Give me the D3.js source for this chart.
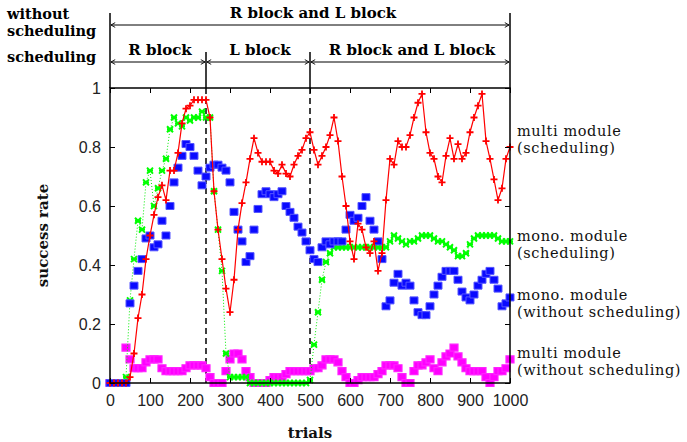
<!DOCTYPE html>
<html><head><meta charset="utf-8">
<script src="https://cdn.jsdelivr.net/npm/d3@7"></script>
<style>
html,body{margin:0;padding:0;background:#fff;}
svg{display:block;}
</style></head>
<body>
<svg id="chart" width="687" height="442"></svg>
<script>
const trials = [0,10,20,30,40,50,60,70,80,90,100,110,120,130,140,150,160,170,180,190,200,210,220,230,240,250,260,270,280,290,300,310,320,330,340,350,360,370,380,390,400,410,420,430,440,450,460,470,480,490,500,510,520,530,540,550,560,570,580,590,600,610,620,630,640,650,660,670,680,690,700,710,720,730,740,750,760,770,780,790,800,810,820,830,840,850,860,870,880,890,900,910,920,930,940,950,960,970,980,990,1000];

const multiSched = [0,0,0,0,0,0.02,0.10,0.22,0.30,0.42,0.50,0.57,0.63,0.67,0.62,0.72,0.72,0.78,0.88,0.93,0.94,0.96,0.96,0.96,0.96,0.90,0.65,0.52,0.42,0.32,0.24,0.35,0.52,0.61,0.68,0.76,0.83,0.78,0.75,0.75,0.75,0.72,0.71,0.74,0.71,0.70,0.74,0.77,0.79,0.83,0.85,0.79,0.74,0.77,0.80,0.84,0.90,0.82,0.70,0.60,0.48,0.42,0.54,0.52,0.46,0.44,0.48,0.38,0.44,0.62,0.76,0.74,0.82,0.80,0.80,0.84,0.90,0.95,0.98,0.85,0.78,0.76,0.70,0.68,0.77,0.83,0.76,0.81,0.76,0.78,0.85,0.90,0.94,0.98,0.82,0.76,0.69,0.62,0.66,0.76,0.80];

const monoSched = [0,0,0,0,0.02,0.28,0.42,0.55,0.52,0.68,0.72,0.60,0.66,0.72,0.76,0.86,0.90,0.88,0.87,0.90,0.89,0.90,0.90,0.92,0.90,0.90,0.65,0.52,0.38,0.10,0.02,0.02,0.02,0.02,0.02,0,0,0,0,0,0,0,0,0,0,0,0,0,0,0,0.01,0.13,0.24,0.35,0.41,0.44,0.46,0.46,0.46,0.46,0.46,0.46,0.46,0.46,0.46,0.46,0.46,0.46,0.46,0.46,0.48,0.50,0.49,0.48,0.47,0.48,0.48,0.49,0.50,0.50,0.50,0.49,0.48,0.48,0.47,0.46,0.45,0.43,0.43,0.44,0.47,0.49,0.50,0.50,0.50,0.50,0.50,0.49,0.48,0.48,0.48];

const monoNoSched = [0,0,0,0,0,0.27,0.33,0.38,0.42,0.49,0.50,0.46,0.47,0.55,0.50,0.60,0.68,0.73,0.77,0.81,0.80,0.77,0.72,0.67,0.70,0.73,0.74,0.74,0.73,0.72,0.68,0.58,0.52,0.48,0.41,0.43,0.52,0.59,0.64,0.65,0.64,0.63,0.64,0.65,0.60,0.58,0.56,0.53,0.51,0.48,0.45,0.42,0.41,0.46,0.48,0.47,0.48,0.48,0.48,0.52,0.57,0.55,0.56,0.60,0.63,0.55,0.52,0.48,0.42,0.26,0.28,0.34,0.37,0.33,0.34,0.33,0.28,0.24,0.23,0.23,0.26,0.30,0.33,0.36,0.38,0.38,0.38,0.35,0.31,0.29,0.28,0.30,0.33,0.35,0.37,0.38,0.35,0.32,0.26,0.27,0.29];

const multiNoSched = [0,0,0,0,0.12,0.08,0.05,0.05,0.05,0.07,0.08,0.08,0.08,0.05,0.04,0.04,0.04,0.04,0.04,0.05,0.06,0.06,0.06,0.06,0.05,0.02,0,0,0,0.04,0.08,0.10,0.10,0.08,0.04,0.02,0,0,0,0,0.01,0.02,0.02,0.02,0.03,0.04,0.04,0.04,0.04,0.04,0.04,0.05,0.05,0.06,0.08,0.08,0.08,0.07,0.04,0.02,0,0,0.01,0.02,0.02,0.02,0.02,0.03,0.04,0.06,0.06,0.06,0.05,0.02,0,0,0.04,0.06,0.06,0.07,0.08,0.05,0.04,0.07,0.09,0.10,0.12,0.09,0.07,0.05,0.04,0.04,0.04,0.04,0.02,0,0.02,0.04,0.04,0.05,0.08];

const xTicks = [0,100,200,300,400,500,600,700,800,900,1000];
const yTicks = [0,0.2,0.4,0.6,0.8,1];
const phaseBounds = [0,240,500,1000];
const schedLabels = ["R block","L block","R block and L block"];
const noSchedLabel = "R block and L block";
const legendLabels = [
  {lines:["multi module","(scheduling)"], y:0.85},
  {lines:["mono. module","(scheduling)"], y:0.495},
  {lines:["mono. module","(without scheduling)"], y:0.295},
  {lines:["multi module","(without scheduling)"], y:0.097}
];

const svg = d3.select("#chart");
const x = d3.scaleLinear().domain([0,1000]).range([110,510]);
const y = d3.scaleLinear().domain([0,1]).range([383,88]);
const serif = "'DejaVu Serif', serif";
const sans = "'Liberation Sans', Arial, sans-serif";

const defs = svg.append("defs");
["start","end"].forEach(k=>{
  defs.append("marker").attr("id","arr-"+k)
    .attr("viewBox","0 0 10 10").attr("refX", k==="end"?9:1).attr("refY",5)
    .attr("markerWidth",6).attr("markerHeight",6).attr("orient","auto")
    .attr("markerUnits","userSpaceOnUse")
    .append("path")
    .attr("d", k==="end" ? "M2,1L9,5L2,9" : "M8,1L1,5L8,9")
    .attr("fill","none").attr("stroke","#000").attr("stroke-width",1.5);
});

const hdr = svg.append("g");
hdr.append("text").attr("x",7).attr("y",19).text("without")
  .attr("font-family",serif).attr("font-weight","bold").attr("font-size",14.5);
hdr.append("text").attr("x",7).attr("y",36).text("scheduling")
  .attr("font-family",serif).attr("font-weight","bold").attr("font-size",14.5);
hdr.append("text").attr("x",7).attr("y",62).text("scheduling")
  .attr("font-family",serif).attr("font-weight","bold").attr("font-size",14.5);

[0,1000].forEach(v=>{
  hdr.append("line").attr("x1",x(v)).attr("x2",x(v)).attr("y1",13).attr("y2",88)
    .attr("stroke","#000").attr("stroke-width",1.5);
});
[240,500].forEach(v=>{
  hdr.append("line").attr("x1",x(v)).attr("x2",x(v)).attr("y1",52).attr("y2",88)
    .attr("stroke","#000").attr("stroke-width",1.5);
});
hdr.append("line").attr("x1",x(0)+1).attr("x2",x(1000)-1).attr("y1",25).attr("y2",25)
  .attr("stroke","#000").attr("stroke-width",1)
  .attr("marker-start","url(#arr-start)").attr("marker-end","url(#arr-end)");
hdr.append("text").attr("x",(x(0)+x(1000))/2+3).attr("y",18).attr("text-anchor","middle")
  .text(noSchedLabel).attr("font-family",serif).attr("font-weight","bold").attr("font-size",15);
for (let i=0;i<3;i++){
  const a=phaseBounds[i], b=phaseBounds[i+1];
  hdr.append("line").attr("x1",x(a)+1).attr("x2",x(b)-1).attr("y1",62).attr("y2",62)
    .attr("stroke","#000").attr("stroke-width",1)
    .attr("marker-start","url(#arr-start)").attr("marker-end","url(#arr-end)");
  hdr.append("text").attr("x",(x(a)+x(b))/2+2).attr("y",55).attr("text-anchor","middle")
    .text(schedLabels[i]).attr("font-family",serif).attr("font-weight","bold").attr("font-size",15);
}

[240,500].forEach(v=>{
  svg.append("line").attr("x1",x(v)).attr("x2",x(v)).attr("y1",y(1)).attr("y2",y(0))
    .attr("stroke","#000").attr("stroke-width",1.5).attr("stroke-dasharray","6,4");
});

const pts = arr => trials.map((t,i)=>({t, v:arr[i]}));
const plot = svg.append("g");

function markers(data, pathD, color, sw, fill){
  plot.append("g").selectAll("path").data(data).join("path")
    .attr("transform",d=>`translate(${x(d.t)},${y(d.v)})`)
    .attr("d",pathD).attr("fill",fill||"none").attr("stroke",color).attr("stroke-width",sw);
}

markers(pts(multiNoSched), "M-4,-3.5H4V3.5H-4Z", "#ff22ff", 1.2, "#ff00ff");

plot.append("path").datum(pts(monoSched))
  .attr("d", d3.line().x(d=>x(d.t)).y(d=>y(d.v)))
  .attr("fill","none").attr("stroke","#00ee00").attr("stroke-width",1).attr("stroke-dasharray","1,2");
markers(pts(monoSched), "M-3,-3L3,3M-3,3L3,-3M-3,0H3", "#00ff00", 2);

markers(pts(monoNoSched), "M-4,-3.5H4V3.5H-4Z", "#5555ff", 1, "#0a0aff");

plot.append("path").datum(pts(multiSched))
  .attr("d", d3.line().x(d=>x(d.t)).y(d=>y(d.v)))
  .attr("fill","none").attr("stroke","#ff0000").attr("stroke-width",1.2);
markers(pts(multiSched), "M-3.5,0H3.5M0,-3.5V3.5", "#ff0000", 1.8);

svg.append("rect").attr("x",x(0)).attr("y",y(1)).attr("width",x(1000)-x(0)).attr("height",y(0)-y(1))
  .attr("fill","none").attr("stroke","#000").attr("stroke-width",1.5);

const axB = d3.axisBottom(x).tickValues(xTicks).tickSize(-5).tickPadding(12).tickFormat(d3.format("d"));
const axT = d3.axisTop(x).tickValues(xTicks).tickSize(-5).tickFormat("");
const axL = d3.axisLeft(y).tickValues(yTicks).tickSize(-5).tickPadding(9).tickFormat(d=>d===0||d===1?d3.format("d")(d):d3.format(".1f")(d));
const axR = d3.axisRight(y).tickValues(yTicks).tickSize(-5).tickFormat("");
function styleAxis(g){
  g.select(".domain").remove();
  g.selectAll(".tick line").attr("stroke","#000").attr("stroke-width",1);
  g.selectAll(".tick text").attr("font-family",sans).attr("font-size",16).attr("fill","#222");
}
svg.append("g").attr("transform",`translate(0,${y(0)})`).call(axB).call(styleAxis);
svg.append("g").attr("transform",`translate(0,${y(1)})`).call(axT).call(styleAxis);
svg.append("g").attr("transform",`translate(${x(0)},0)`).call(axL).call(styleAxis);
svg.append("g").attr("transform",`translate(${x(1000)},0)`).call(axR).call(styleAxis);

svg.append("text").attr("transform",`translate(48,${(y(0)+y(1))/2}) rotate(-90)`)
  .attr("text-anchor","middle").text("success rate")
  .attr("font-family",serif).attr("font-size",15).attr("font-weight","bold").attr("fill","#111");
svg.append("text").attr("x",(x(0)+x(1000))/2).attr("y",438).attr("text-anchor","middle")
  .text("trials").attr("font-family",serif).attr("font-size",15).attr("font-weight","bold").attr("fill","#111");

legendLabels.forEach(l=>{
  l.lines.forEach((s,i)=>{
    svg.append("text").attr("x",517).attr("y",y(l.y)+4+i*17).text(s)
      .attr("font-family",serif).attr("font-size",14.5).attr("letter-spacing",0.6).attr("fill","#111");
  });
});
</script>
</body></html>
